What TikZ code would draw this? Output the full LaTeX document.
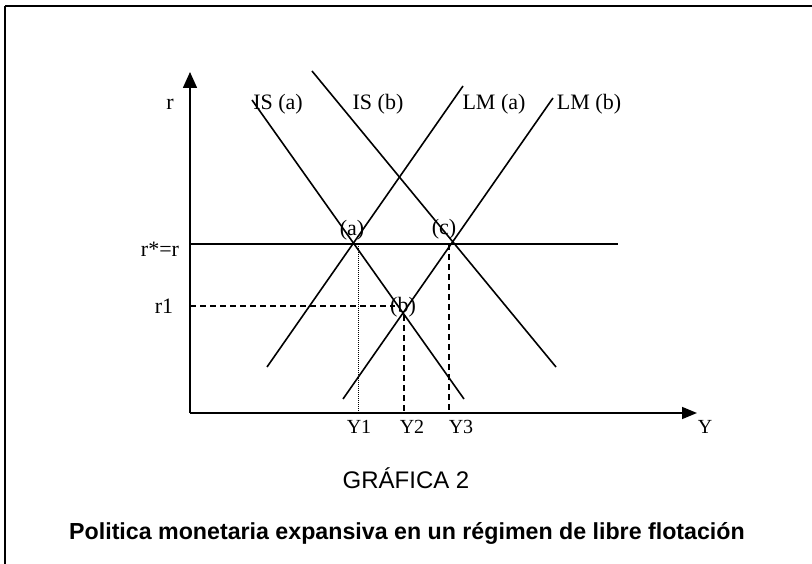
\documentclass[tikz,border=0pt]{standalone}
\usepackage{fontspec}
\setmainfont{Liberation Serif}
\newfontfamily\arialfont{Liberation Sans}
\usetikzlibrary{arrows.meta}

\begin{document}
\begin{tikzpicture}
[x=1pt, y=1pt, every node/.style={inner sep=0pt},
 curve/.style={line width=1.6pt, color=black},
 axis/.style={line width=1.6pt, color=black},
 guide/.style={line width=1.4pt, color=black, dash pattern=on 6pt off 4pt},
 guidedot/.style={line width=1pt, color=black, dash pattern=on 1pt off 1pt},
 lbl/.style={font=\fontsize{22}{25}\selectfont},
 ylbl/.style={font=\fontsize{20}{23}\selectfont}]
\useasboundingbox (0,0) rectangle (812,-564);
% frame
\coordinate (TL) at (5,-6);
\coordinate (TR) at (812,-6);
\coordinate (BL) at (5,-564);
\draw [line width=2pt] (TR) -- (TL);
\draw [line width=1.4pt] (TL) -- (BL);
% axes
\coordinate (O) at (190,-413);
\coordinate (Rtop) at (190,-72);
\coordinate (Yend) at (697,-413);
\draw [axis, -{Triangle[length=16pt, width=14pt]}] (O) -- (Rtop);
\draw [axis, -{Triangle[length=15pt, width=12pt]}] (O) -- (Yend);
% curve ends
\coordinate (ISa1) at (252,-100);
\coordinate (ISa2) at (464,-399);
\coordinate (ISb1) at (312,-71);
\coordinate (ISb2) at (556,-367);
\coordinate (LMa1) at (463,-86);
\coordinate (LMa2) at (267,-367);
\coordinate (LMb1) at (553,-98);
\coordinate (LMb2) at (343,-399);
\coordinate (Rstar1) at (190,-244);
\coordinate (Rstar2) at (618,-244);
\draw [curve] (ISa1) -- (ISa2);
\draw [curve] (ISb1) -- (ISb2);
\draw [curve] (LMa1) -- (LMa2);
\draw [curve] (LMb1) -- (LMb2);
\draw [curve] (Rstar1) -- (Rstar2);
% guides
\coordinate (R1a) at (190,-306);
\coordinate (R1b) at (395,-306);
\coordinate (Y1a) at (358,-246);
\coordinate (Y1b) at (358,-413);
\coordinate (Y2a) at (404,-315);
\coordinate (Y2b) at (404,-413);
\coordinate (Y3a) at (449,-244);
\coordinate (Y3b) at (449,-413);
\draw [guide] (R1a) -- (R1b);
\draw [guidedot] (Y1a) -- (Y1b);
\draw [guide] (Y2a) -- (Y2b);
\draw [guide] (Y3a) -- (Y3b);
% labels
\node (r) [lbl] at (170,-104) {r};
\node (rstar) [lbl] at (160,-249) {r*=r};
\node (r1) [lbl] at (164,-306) {r1};
\node (ISa) [lbl] at (278,-104) {IS (a)};
\node (ISb) [lbl] at (378,-104) {IS (b)};
\node (LMa) [lbl] at (494,-104) {LM (a)};
\node (LMb) [lbl] at (589,-104) {LM (b)};
\node (a) [lbl] at (352,-230) {(a)};
\node (b) [lbl] at (403,-307) {(b)};
\node (c) [lbl] at (444,-229) {(c)};
\node (Y1) [ylbl] at (359,-427) {Y1};
\node (Y2) [ylbl] at (412,-427) {Y2};
\node (Y3) [ylbl] at (461,-427) {Y3};
\node (Y) [ylbl] at (705,-427) {Y};
\node (graf) [font=\arialfont\fontsize{24}{27}\selectfont] at (406,-478) {GRÁFICA 2};
\node (title) [font=\arialfont\bfseries\fontsize{23.2}{27}\selectfont] at (407,-533) {Politica monetaria expansiva en un régimen de libre flotación};
\end{tikzpicture}
\end{document}
